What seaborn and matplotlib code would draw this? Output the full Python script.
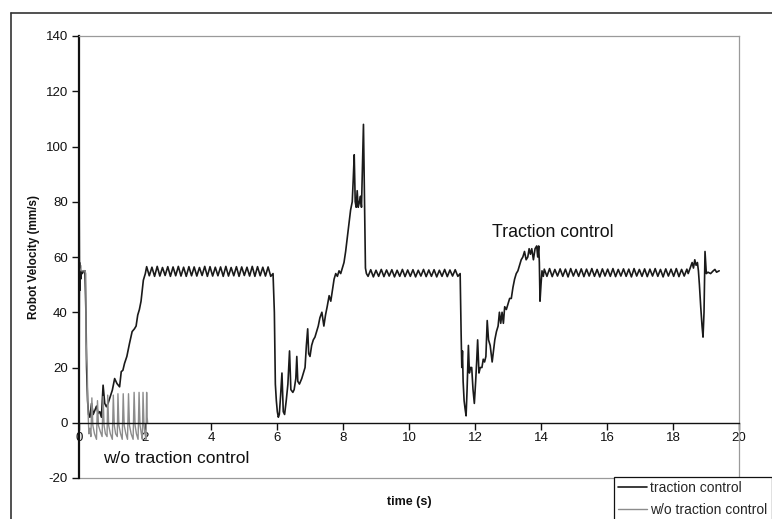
import numpy as np
import pandas as pd
import matplotlib
matplotlib.use("Agg")
import matplotlib.pyplot as plt
from matplotlib.lines import Line2D
import seaborn as sns

# ---------------- data: robot velocity (mm/s) versus time (s) ----------------
# traction control: start-up transient
tc_start = [(0.00, 0), (0.01, 45), (0.02, 58), (0.03, 48), (0.04, 57), (0.05, 52),
            (0.07, 55), (0.10, 54), (0.14, 55), (0.18, 55), (0.21, 40), (0.23, 20),
            (0.26, 8), (0.29, 3), (0.33, 2), (0.38, 7), (0.43, 3), (0.48, 4.5),
            (0.53, 6), (0.58, 3.4), (0.63, 4), (0.68, 2), (0.73, 13.6), (0.78, 7),
            (0.83, 5.8), (0.88, 7), (0.93, 8.8), (1.01, 11.8), (1.08, 16), (1.15, 14.2),
            (1.23, 13), (1.28, 18.5), (1.33, 19), (1.38, 21.5), (1.45, 24), (1.53, 28.7),
            (1.61, 33), (1.68, 34), (1.73, 35), (1.78, 39), (1.83, 41), (1.88, 44),
            (1.95, 51.6), (2.01, 54)]

# steady running phases sampled every 0.08 s
osc_step = 0.08
tc_run1_start = 2.05
tc_run1 = [56.5, 53.2, 56.3, 53.0, 56.6, 53.1, 56.2, 53.3,
           56.5, 53.0, 56.4, 53.2, 56.6, 53.1, 56.3, 53.0,
           56.5, 53.2, 56.4, 53.1, 56.2, 53.3, 56.6, 53.0,
           56.5, 53.1, 56.3, 53.2, 56.4, 53.0, 56.6, 53.1,
           56.2, 53.2, 56.5, 53.0, 56.4, 53.3, 56.3, 53.1,
           56.6, 53.0, 56.5, 53.2, 56.3, 53.1, 56.4, 53.0]

tc_slip1 = [(5.88, 54), (5.92, 40), (5.95, 14), (5.98, 8), (6.01, 4), (6.04, 2),
            (6.07, 3), (6.11, 10), (6.15, 18), (6.19, 4), (6.23, 3), (6.28, 8),
            (6.33, 14), (6.38, 26), (6.42, 12), (6.48, 11), (6.52, 12), (6.57, 16),
            (6.60, 24), (6.63, 15), (6.68, 14), (6.75, 16), (6.80, 18), (6.85, 20),
            (6.89, 28), (6.93, 34), (6.96, 25), (7.00, 24), (7.05, 28), (7.10, 30),
            (7.15, 31), (7.20, 33), (7.25, 35), (7.30, 38), (7.36, 40), (7.42, 35),
            (7.47, 39), (7.52, 42), (7.58, 46), (7.63, 44), (7.68, 48), (7.73, 52),
            (7.78, 54), (7.83, 53), (7.88, 55), (7.93, 54), (7.98, 56), (8.03, 58),
            (8.08, 62), (8.13, 67), (8.18, 72), (8.23, 77), (8.28, 80), (8.31, 88),
            (8.34, 97), (8.37, 80), (8.40, 78), (8.43, 84), (8.46, 78), (8.50, 80),
            (8.53, 82), (8.56, 78), (8.59, 93), (8.62, 108), (8.64, 90), (8.66, 70),
            (8.68, 56), (8.71, 54)]

tc_run2_start = 8.76
tc_run2 = [53.0, 55.4, 52.8, 55.2, 53.0, 55.5, 52.9, 55.3, 53.1, 55.4,
           52.8, 55.2, 53.0, 55.5, 52.9, 55.3, 53.0, 55.4, 52.8, 55.2,
           53.1, 55.5, 52.9, 55.3, 53.0, 55.4, 52.8, 55.2, 53.0, 55.5,
           52.9, 55.3, 53.1, 55.4, 53.0]

tc_slip2 = [(11.55, 54), (11.58, 32), (11.60, 20), (11.62, 26), (11.64, 15),
            (11.67, 8), (11.70, 5), (11.73, 2.5), (11.76, 12), (11.80, 28),
            (11.83, 18), (11.86, 20), (11.90, 20), (11.94, 12), (11.98, 7),
            (12.02, 15), (12.05, 22), (12.08, 30), (12.12, 18), (12.16, 20),
            (12.21, 20), (12.25, 23), (12.29, 22), (12.33, 24), (12.37, 37),
            (12.41, 30), (12.46, 28), (12.52, 22), (12.56, 26), (12.60, 30),
            (12.65, 33), (12.70, 35), (12.74, 40), (12.78, 36), (12.82, 40),
            (12.86, 36), (12.90, 42), (12.95, 41), (13.00, 43), (13.05, 45),
            (13.10, 45), (13.15, 49), (13.20, 52), (13.25, 54), (13.30, 55),
            (13.35, 57), (13.40, 59), (13.45, 60), (13.50, 62), (13.55, 59),
            (13.60, 60), (13.64, 63), (13.68, 61), (13.72, 63), (13.77, 59),
            (13.82, 63), (13.87, 64), (13.90, 60), (13.93, 64), (13.95, 58),
            (13.97, 44), (14.00, 50), (14.03, 55), (14.07, 53)]

tc_run3_start = 14.10
tc_run3 = [55.6, 53.0, 55.8, 52.9, 55.5, 53.1, 55.7, 53.0, 55.6, 52.8,
           55.8, 53.1, 55.5, 53.0, 55.7, 52.9, 55.6, 53.1, 55.8, 53.0,
           55.5, 52.8, 55.7, 53.1, 55.6, 53.0, 55.8, 52.9, 55.5, 53.1,
           55.7, 53.0, 55.6, 52.8, 55.8, 53.1, 55.5, 53.0, 55.7, 52.9,
           55.6, 53.1, 55.8, 53.0, 55.5, 52.8, 55.7, 53.1, 55.6, 53.0,
           55.8, 52.9, 55.5, 53.1, 55.6]

tc_end = [(18.46, 54), (18.52, 56), (18.58, 58), (18.62, 56), (18.66, 59),
          (18.70, 57), (18.74, 58), (18.77, 55), (18.80, 50), (18.84, 42),
          (18.88, 35), (18.91, 31), (18.94, 40), (18.97, 62), (18.99, 58),
          (19.01, 54), (19.06, 54.5), (19.14, 54), (19.22, 55), (19.27, 55.5),
          (19.32, 54.5), (19.40, 55)]

# without traction control: wheels spin, velocity oscillates around zero
no_tc = [(0.000, 0), (0.004, 120), (0.012, 75), (0.025, 56), (0.06, 55), (0.12, 55),
         (0.18, 55), (0.205, 54), (0.215, 30), (0.23, 24), (0.25, 19), (0.265, 8),
         (0.28, 2), (0.30, -4), (0.33, -2), (0.36, -5),
         (0.39, 9), (0.42, -1), (0.47, -4), (0.53, -6),
         (0.56, 8), (0.59, -1), (0.64, -3), (0.70, -5),
         (0.73, 9.5), (0.76, -1), (0.80, -4), (0.85, -5),
         (0.87, 10), (0.90, -1), (0.95, -4), (1.01, -6),
         (1.04, 10), (1.07, -1), (1.11, -4), (1.16, -5),
         (1.18, 10.5), (1.21, -1), (1.26, -4), (1.31, -6),
         (1.34, 10.5), (1.37, -1), (1.42, -4), (1.47, -6),
         (1.50, 10.5), (1.53, -1), (1.58, -4), (1.64, -6),
         (1.67, 11), (1.70, -1), (1.74, -4), (1.79, -6),
         (1.82, 11), (1.85, -1), (1.89, -4), (1.92, -6),
         (1.94, 11), (1.97, -1), (2.00, -4), (2.03, -6),
         (2.05, 11), (2.065, 2), (2.08, 0)]

x_ticks = list(range(0, 21, 2))
y_ticks = list(range(-20, 141, 20))
series_labels = ["traction control", "w/o traction control"]


def sampled(start, values):
    times = start + osc_step * np.arange(len(values))
    return list(zip(times, values))


tc_points = (tc_start + sampled(tc_run1_start, tc_run1) + tc_slip1
             + sampled(tc_run2_start, tc_run2) + tc_slip2
             + sampled(tc_run3_start, tc_run3) + tc_end)
df_tc = pd.DataFrame(tc_points, columns=["time", "velocity"])
df_no = pd.DataFrame(no_tc, columns=["time", "velocity"])

# ---------------- figure ----------------
sns.set_theme(style="ticks")
plt.rcParams["font.family"] = ["Liberation Sans", "DejaVu Sans"]

W, H = 772, 519
fig = plt.figure(figsize=(W / 100, H / 100), dpi=100)
fig.patch.set_facecolor("white")
ax = fig.add_axes([79 / W, 41 / H, 660 / W, 442 / H])
ax.set_facecolor("white")

sns.lineplot(data=df_tc, x="time", y="velocity", ax=ax, color="#1a1a1a",
             linewidth=1.2, estimator=None, sort=False, label=series_labels[0])
sns.lineplot(data=df_no, x="time", y="velocity", ax=ax, color="#8c8c8c",
             linewidth=1.0, estimator=None, sort=False, label=series_labels[1])

ax.set_xlim(0, 20)
ax.set_ylim(-20, 140)
ax.set_xticks(x_ticks)
ax.set_yticks(y_ticks)
ax.set_xticklabels([str(v) for v in x_ticks])
ax.set_yticklabels([str(v) for v in y_ticks])

# x axis runs along zero velocity; the plot frame is closed in grey
ax.spines["bottom"].set_position(("data", 0))
ax.spines["bottom"].set_color("#111111")
ax.spines["bottom"].set_linewidth(1.0)
ax.spines["left"].set_color("#111111")
ax.spines["left"].set_linewidth(1.6)
for side in ("top", "right"):
    ax.spines[side].set_visible(True)
    ax.spines[side].set_color("#9a9a9a")
    ax.spines[side].set_linewidth(0.9)
ax.axhline(-20, color="#9a9a9a", linewidth=0.9, clip_on=False)

ax.tick_params(axis="both", which="major", direction="out", length=5, width=1,
               color="#111111", labelsize=9.5, labelcolor="#111111",
               bottom=True, left=True, top=False, right=False)
ax.tick_params(axis="x", pad=2)
ax.tick_params(axis="y", pad=3)

ax.set_xlabel("time (s)", fontsize=9, fontweight="bold", color="#111111")
ax.set_ylabel("Robot Velocity (mm/s)", fontsize=8.5, fontweight="bold", color="#111111")
ax.xaxis.set_label_coords(0.5, (478 - 496) / 442)
ax.yaxis.set_label_coords((40 - 79) / 660, 0.5)

ax.text(0.73, -13, "w/o traction control", fontsize=12.5, va="center", ha="left",
        color="#111111")
ax.text(12.52, 68.7, "Traction control", fontsize=12.8, va="center", ha="left",
        color="#111111")

handles, labels = ax.get_legend_handles_labels()
if ax.get_legend() is not None:
    ax.get_legend().remove()
leg = fig.legend(handles, labels, loc="upper left",
                 bbox_to_anchor=(614 / W, 1 - 477 / H), fontsize=10,
                 frameon=True, fancybox=False, shadow=False, framealpha=1,
                 edgecolor="#111111", borderpad=0.3, labelspacing=0.55,
                 handlelength=2.1, handletextpad=0.2, borderaxespad=0)
leg.get_frame().set_linewidth(0.9)

# outer chart border (top and left edges inside the canvas)
fig.add_artist(Line2D([11 / W, 11 / W], [0, 1 - 13 / H], color="#333333",
                      linewidth=1.2, transform=fig.transFigure))
fig.add_artist(Line2D([11 / W, 1], [1 - 13 / H, 1 - 13 / H], color="#333333",
                      linewidth=1.2, transform=fig.transFigure))

fig.savefig("out.png", dpi=100, facecolor="white")
